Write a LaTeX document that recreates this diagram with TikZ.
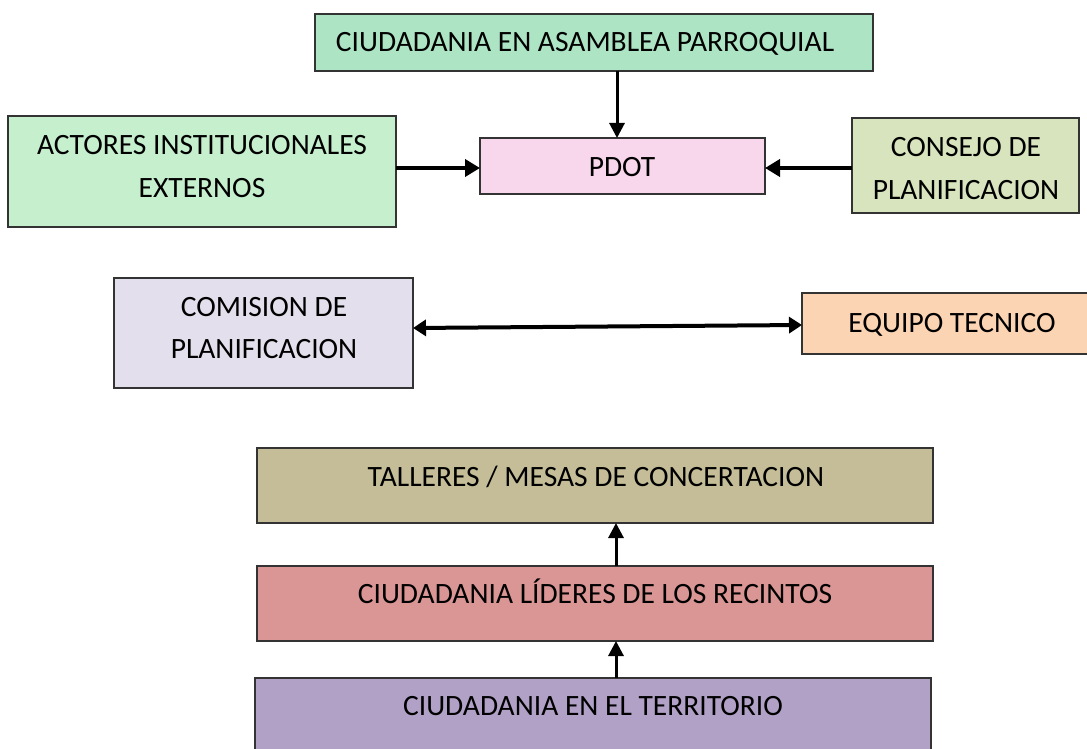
\documentclass[tikz,border=0pt]{standalone}
\usepackage{fontspec}
\setmainfont{Carlito}
\usetikzlibrary{arrows.meta}
\definecolor{cTop}{RGB}{173,229,196}
\definecolor{cAct}{RGB}{198,239,206}
\definecolor{cPdot}{RGB}{248,214,236}
\definecolor{cCons}{RGB}{215,228,189}
\definecolor{cCom}{RGB}{228,223,236}
\definecolor{cEq}{RGB}{251,212,180}
\definecolor{cTal}{RGB}{196,189,151}
\definecolor{cLid}{RGB}{218,150,148}
\definecolor{cTer}{RGB}{178,161,199}
\begin{document}
\begin{tikzpicture}[x=1pt,y=-1pt,
  box/.style={draw=black!80,line width=1.3pt,inner sep=0pt,outer sep=0pt,rectangle},
  txt/.style={font=\fontsize{29.5}{43}\selectfont,anchor=base,inner sep=0pt},
  arrV/.style={-{Triangle[length=15pt,width=15pt]},line width=3pt},
  arrH/.style={-{Triangle[length=15pt,width=17pt]},line width=4.7pt},
  arrB/.style={{Triangle[length=13pt,width=16pt]}-{Triangle[length=13pt,width=16pt]},line width=4pt}]
\useasboundingbox (0,0) rectangle (1087,749);
\fill[white] (0,0) rectangle (1087,749);
% boxes
\node[box,fill=cTop,minimum width=558pt,minimum height=57pt] (top) at (594,42.5) {};
\node[box,fill=cAct,minimum width=388pt,minimum height=111pt] (act) at (202,171.5) {};
\node[box,fill=cPdot,minimum width=285pt,minimum height=56pt] (pdot) at (622.5,166) {};
\node[box,fill=cCons,minimum width=227pt,minimum height=95pt] (cons) at (965.5,165.5) {};
\node[box,fill=cCom,minimum width=299pt,minimum height=110pt] (com) at (263.5,333) {};
\node[box,fill=cEq,minimum width=290pt,minimum height=61pt] (eq) at (947,323.5) {};
\node[box,fill=cTal,minimum width=676pt,minimum height=75pt] (tal) at (595,485.5) {};
\node[box,fill=cLid,minimum width=676pt,minimum height=75pt] (lid) at (595,603.5) {};
\node[box,fill=cTer,minimum width=676pt,minimum height=82pt] (ter) at (593,719) {};
% texts
\node[txt] (topT) at (585,52) {CIUDADANIA EN ASAMBLEA PARROQUIAL};
\node[txt] (actT1) at (202,154) {ACTORES INSTITUCIONALES};
\node[txt] (actT2) at (202,197) {EXTERNOS};
\node[txt] (pdotT) at (622,176) {PDOT};
\node[txt] (consT1) at (966,157) {CONSEJO DE};
\node[txt] (consT2) at (966,199) {PLANIFICACION};
\node[txt] (comT1) at (264,316) {COMISION DE};
\node[txt] (comT2) at (264,358) {PLANIFICACION};
\node[txt] (eqT) at (952,332) {EQUIPO TECNICO};
\node[txt] (talT) at (596,486) {TALLERES / MESAS DE CONCERTACION};
\node[txt] (lidT) at (595,603) {CIUDADANIA LÍDERES DE LOS RECINTOS};
\node[txt] (terT) at (593,715) {CIUDADANIA EN EL TERRITORIO};
% connectors
\draw[arrV] (617,0 |- top.south) -- (617,0 |- pdot.north);
\draw[arrH] (act.east |- 0,168) -- (pdot.west |- 0,168);
\draw[arrH] (cons.west |- 0,168) -- (pdot.east |- 0,168);
\draw[arrB] (com.east |- 0,328) -- (eq.west |- 0,325);
\draw[arrV] (616,0 |- lid.north) -- (616,0 |- tal.south);
\draw[arrV] (616,0 |- ter.north) -- (616,0 |- lid.south);
\end{tikzpicture}
\end{document}
